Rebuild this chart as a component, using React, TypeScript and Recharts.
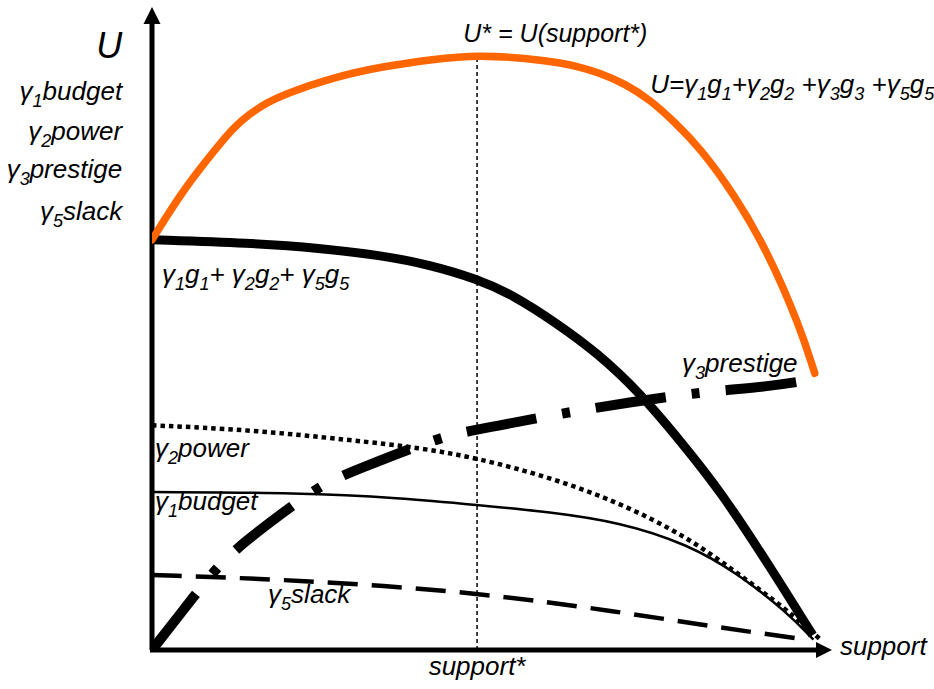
import React from 'react';
import { ComposedChart, Line, XAxis, YAxis, ReferenceLine, ReferenceDot } from 'recharts';

// ---- data (x: support, y: utility level) ----
const utilityU: number[][] = [
  [0, 63.9], [4.7, 71.7], [9.8, 78.3], [12.2, 81.3], [14.8, 83.6], [17.3, 85.2], [19.7, 86.5],
  [27.3, 89.2], [34.8, 90.9], [42.4, 92.0], [49.0, 92.8], [60.0, 91.8], [63.8, 91.0],
  [67.5, 89.9], [71.3, 88.2], [75.1, 85.7], [78.8, 82.2], [82.6, 78.2], [87.6, 71.2],
  [92.7, 62.3], [97.7, 50.3], [99.9, 43.1],
];
const sum125: number[][] = [
  [0, 63.9], [14.8, 63.4], [25.3, 62.6], [34.4, 61.5], [41.9, 60.0], [49.0, 57.8], [54.4, 55.3],
  [61.0, 50.9], [67.1, 46.3], [73.6, 40.0], [79.6, 32.6], [85.6, 24.9], [93.2, 12.9], [99.6, 2.3],
];
const power: number[][] = [
  [0, 35.0], [14.8, 34.3], [29.9, 32.7], [40.4, 31.5], [49.0, 29.9], [60.0, 26.9], [70.6, 22.9],
  [80.7, 17.6], [88.2, 12.0], [95.8, 6.2], [100.8, 1.6],
];
const budget: number[][] = [
  [0, 24.6], [22.3, 24.5], [37.4, 23.7], [49.0, 22.6], [60.0, 21.5], [70.6, 19.9], [80.7, 16.5],
  [88.2, 12.0], [95.8, 5.8], [99.7, 1.6],
];
const slack: number[][] = [
  [0, 11.7], [22.3, 10.9], [49.0, 9.0], [70.6, 5.9], [83.1, 3.9], [91.7, 2.6], [98.8, 1.6],
];
const prestige: number[][] = [
  [0, 0], [6.8, 9.0], [10.0, 13.1], [13.7, 16.7], [22.3, 23.4], [26.5, 26.2], [31.4, 28.3],
  [41.5, 32.4], [46.2, 33.8], [51.0, 34.7], [62.0, 36.9], [72.1, 38.6], [83.0, 40.2],
  [92.8, 41.0], [100.0, 42.2],
];
const supportStar = 49.0;
const uStar = 92.5;

type Part = [string, boolean];
type Lbl = { x: number; y: number; parts: Part[]; anchor: 'start' | 'middle' | 'end'; size: number };

const labels: Lbl[] = [
  { x: -4.5, y: 92.2, parts: [['U', false]], anchor: 'end', size: 36 },
  { x: -4.5, y: 85.7, parts: [['γ', false], ['1', true], ['budget', false]], anchor: 'end', size: 26 },
  { x: -4.5, y: 79.4, parts: [['γ', false], ['2', true], ['power', false]], anchor: 'end', size: 26 },
  { x: -4.5, y: 73.5, parts: [['γ', false], ['3', true], ['prestige', false]], anchor: 'end', size: 26 },
  { x: -4.5, y: 67.0, parts: [['γ', false], ['5', true], ['slack', false]], anchor: 'end', size: 26 },
  { x: 60.8, y: 94.7, parts: [['U* = U(support*)', false]], anchor: 'middle', size: 25 },
  {
    x: 75.1, y: 86.8, anchor: 'start', size: 26,
    parts: [['U=γ', false], ['1', true], ['g', false], ['1', true], ['+γ', false], ['2', true], ['g', false], ['2', true],
      [' +γ', false], ['3', true], ['g', false], ['3', true], [' +γ', false], ['5', true], ['g', false], ['5', true]],
  },
  {
    x: 1.5, y: 57.2, anchor: 'start', size: 26,
    parts: [['γ', false], ['1', true], ['g', false], ['1', true], ['+ γ', false], ['2', true], ['g', false], ['2', true],
      ['+ γ', false], ['5', true], ['g', false], ['5', true]],
  },
  { x: 79.9, y: 43.3, parts: [['γ', false], ['3', true], ['prestige', false]], anchor: 'start', size: 26 },
  { x: 0.45, y: 30.1, parts: [['γ', false], ['2', true], ['power', false]], anchor: 'start', size: 26 },
  { x: 0.45, y: 21.8, parts: [['γ', false], ['1', true], ['budget', false]], anchor: 'start', size: 26 },
  { x: 17.5, y: 7.3, parts: [['γ', false], ['5', true], ['slack', false]], anchor: 'start', size: 26 },
  { x: 103.7, y: -0.8, parts: [['support', false]], anchor: 'start', size: 26 },
  { x: 49.0, y: -3.9, parts: [['support*', false]], anchor: 'middle', size: 26 },
];

const toPts = (a: number[][]) => a.map(([x, y]) => ({ x, y }));

const FONT = '"Liberation Sans", Arial, sans-serif';

function RichText(props: any) {
  const { cx, cy, lbl } = props;
  const l: Lbl = lbl;
  const subSize = Math.round(l.size * 0.7);
  const shift = Math.round(l.size * 0.27);
  let prevSub = false;
  return (
    <text x={cx} y={cy} textAnchor={l.anchor} fontFamily={FONT} fontStyle="italic" fontSize={l.size} fill="#000">
      {l.parts.map(([t, sub], i) => {
        let dy = 0;
        if (sub && !prevSub) dy = shift;
        else if (!sub && prevSub) dy = -shift;
        prevSub = sub;
        return (
          <tspan key={i} dy={dy} fontSize={sub ? subSize : l.size} style={{ whiteSpace: 'pre' }}>
            {t}
          </tspan>
        );
      })}
    </text>
  );
}

const XMAX = 102.5;

export default function App() {
  return (
    <div style={{ position: 'absolute', left: 0, top: 0, background: '#fff' }}>
      <ComposedChart width={934} height={689} margin={{ top: 8, right: 102, bottom: 39, left: 152 }}>
        <XAxis type="number" dataKey="x" domain={[0, XMAX]} allowDataOverflow hide />
        <YAxis type="number" dataKey="y" domain={[0, 100]} allowDataOverflow hide />

        <ReferenceLine segment={[{ x: -0.3, y: 0 }, { x: 100.6, y: 0 }]} stroke="#000" strokeWidth={5} ifOverflow="visible" />
        <ReferenceLine segment={[{ x: 0, y: 0 }, { x: 0, y: 97.6 }]} stroke="#000" strokeWidth={5} ifOverflow="visible" />
        <ReferenceDot
          x={XMAX} y={0} r={0} ifOverflow="visible"
          shape={(p: any) => (
            <polygon points={`${p.cx},${p.cy} ${p.cx - 16},${p.cy - 8} ${p.cx - 16},${p.cy + 8}`} fill="#000" />
          )}
        />
        <ReferenceDot
          x={0} y={100} r={0} ifOverflow="visible"
          shape={(p: any) => (
            <polygon points={`${p.cx},${p.cy - 1} ${p.cx - 8.5},${p.cy + 16} ${p.cx + 8.5},${p.cy + 16}`} fill="#000" />
          )}
        />
        <ReferenceLine
          segment={[{ x: supportStar, y: 0 }, { x: supportStar, y: uStar }]}
          stroke="#000" strokeWidth={1.5} strokeDasharray="4 3" ifOverflow="visible"
        />

        <Line data={toPts(slack)} dataKey="y" type="basis" stroke="#000" strokeWidth={4.5}
          strokeDasharray="30 14" dot={false} activeDot={false} isAnimationActive={false} />
        <Line data={toPts(budget)} dataKey="y" type="basis" stroke="#000" strokeWidth={2.5}
          dot={false} activeDot={false} isAnimationActive={false} />
        <Line data={toPts(power)} dataKey="y" type="basis" stroke="#000" strokeWidth={4.5}
          strokeDasharray="4.5 4" dot={false} activeDot={false} isAnimationActive={false} />
        <Line data={toPts(prestige)} dataKey="y" type="basis" stroke="#000" strokeWidth={10}
          strokeDasharray="71 26 8 26" dot={false} activeDot={false} isAnimationActive={false} />
        <Line data={toPts(sum125)} dataKey="y" type="basis" stroke="#000" strokeWidth={9}
          dot={false} activeDot={false} isAnimationActive={false} />
        <Line data={toPts(utilityU)} dataKey="y" type="basis" stroke="#FF6600" strokeWidth={7.5}
          strokeLinecap="round" dot={false} activeDot={false} isAnimationActive={false} />

        {labels.map((l, i) => (
          <ReferenceDot key={i} x={l.x} y={l.y} r={0} ifOverflow="visible" fill="none" stroke="none"
            shape={(p: any) => <RichText cx={p.cx} cy={p.cy} lbl={l} />} />
        ))}
      </ComposedChart>
    </div>
  );
}
